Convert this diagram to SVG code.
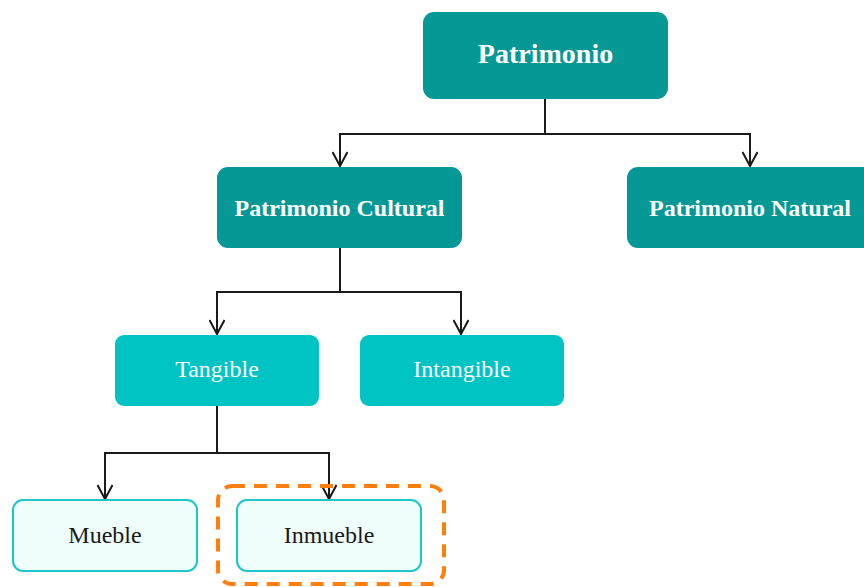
<svg xmlns="http://www.w3.org/2000/svg" width="864" height="587" viewBox="0 0 864 587">
  <defs>
    <marker id="arrow" viewBox="0 0 16 16" refX="15" refY="8" markerWidth="16" markerHeight="16" markerUnits="userSpaceOnUse" orient="auto">
      <path d="M1,0.5 L15,8 L1,15.5" fill="none" stroke="#1a1a1a" stroke-width="2"/>
    </marker>
    <style>
      .dark rect { fill: #069894; }
      .mid rect { fill: #00c4c4; }
      .light rect { fill: #effdfb; stroke: #1ec7c7; stroke-width: 2; }
      text { font-family: "Liberation Serif", "Times New Roman", serif; text-anchor: middle; }
      .dark text { fill: #ffffff; font-weight: bold; font-size: 24px; }
      .mid text { fill: #ffffff; font-size: 24px; }
      .light text { fill: #1a1a1a; font-size: 24px; }
      .edge { fill: none; stroke: #1a1a1a; stroke-width: 2; }
      .highlight { fill: none; stroke: #ff7f0e; stroke-width: 4; stroke-dasharray: 13 9; }
    </style>
  </defs>

  <rect width="864" height="587" fill="#ffffff"/>

  <!-- connectors -->
  <g id="connectors">
    <path class="edge" d="M545,99 V134 H340 V166" marker-end="url(#arrow)"/>
    <path class="edge" d="M545,134 H750 V166" marker-end="url(#arrow)"/>
    <path class="edge" d="M340,248 V292 H217 V334" marker-end="url(#arrow)"/>
    <path class="edge" d="M340,292 H461 V334" marker-end="url(#arrow)"/>
    <path class="edge" d="M217,406 V453 H105 V499" marker-end="url(#arrow)"/>
    <path class="edge" d="M217,453 H329 V499" marker-end="url(#arrow)"/>
  </g>

  <!-- nodes -->
  <g id="patrimonio" class="dark">
    <rect x="423" y="12" width="245" height="87" rx="11"/>
    <text x="545.5" y="63" style="font-size:28px">Patrimonio</text>
  </g>
  <g id="patrimonio-cultural" class="dark">
    <rect x="217" y="167" width="245" height="81" rx="11"/>
    <text x="339.5" y="216">Patrimonio Cultural</text>
  </g>
  <g id="patrimonio-natural" class="dark">
    <rect x="627" y="167" width="250" height="81" rx="11"/>
    <text x="750" y="216">Patrimonio Natural</text>
  </g>
  <g id="tangible" class="mid">
    <rect x="115" y="335" width="204" height="71" rx="9"/>
    <text x="217" y="377">Tangible</text>
  </g>
  <g id="intangible" class="mid">
    <rect x="360" y="335" width="204" height="71" rx="9"/>
    <text x="462" y="377">Intangible</text>
  </g>
  <g id="mueble" class="light">
    <rect x="13" y="500" width="184" height="71" rx="10"/>
    <text x="105" y="543">Mueble</text>
  </g>
  <g id="inmueble" class="light">
    <rect x="237" y="500" width="184" height="71" rx="10"/>
    <text x="329" y="543">Inmueble</text>
  </g>

  <!-- dashed outline around the Inmueble node -->
  <rect class="highlight" x="218" y="486" width="226" height="98" rx="14"/>
</svg>
